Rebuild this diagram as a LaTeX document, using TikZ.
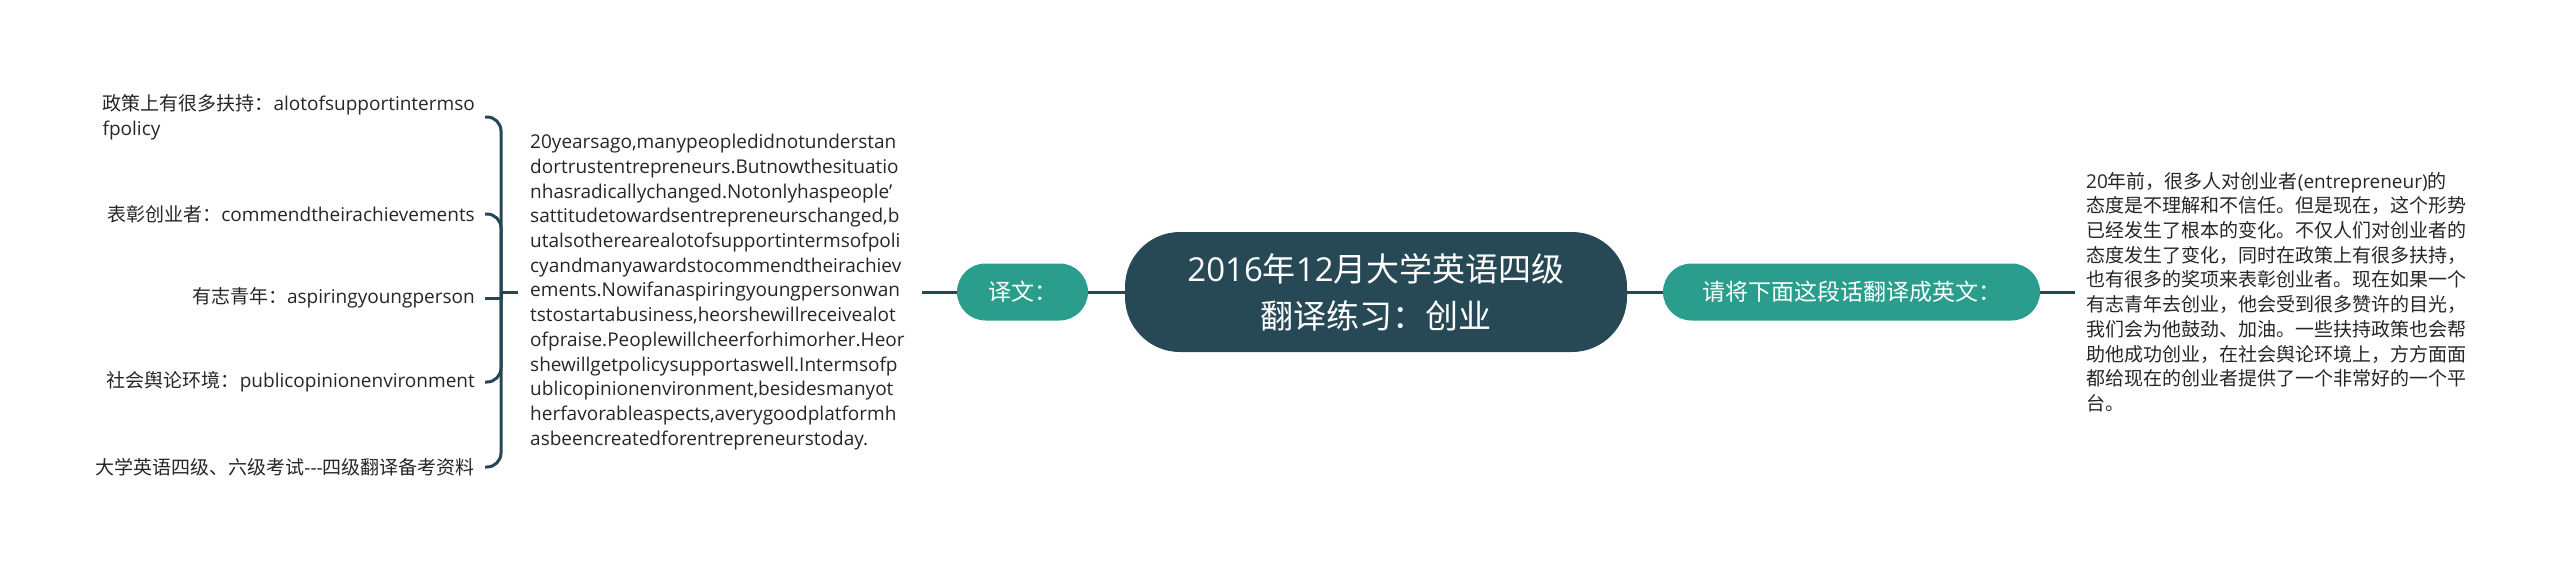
\documentclass[tikz,border=0pt]{standalone}
\usepackage{fontspec}
\setmainfont{Open Sans}
\newfontfamily\cjk{Noto Sans CJK SC}
\definecolor{rootc}{HTML}{274956}
\definecolor{tealc}{HTML}{2A9D8C}
\definecolor{linec}{HTML}{264653}
\definecolor{txtc}{HTML}{262626}
\tikzset{
 rootbox/.style={fill=rootc, rounded corners=55pt, minimum width=502pt, minimum height=120pt, inner sep=0pt, text=white, align=center, font=\fontsize{33}{47}\selectfont},
 branchbox/.style={fill=tealc, rounded corners=28.5pt, minimum height=57pt, inner sep=0pt, text=white, font=\fontsize{23}{28}\selectfont},
 leaftext/.style={text=txtc, inner xsep=10pt, inner ysep=0pt, font=\fontsize{19}{24.7}\selectfont},
 paratext/.style={text=txtc, inner xsep=12pt, inner ysep=0pt, align=left, font=\fontsize{19}{24.7}\selectfont},
 conn/.style={draw=linec, line width=3pt},
}
\begin{document}
\begin{tikzpicture}[x=1pt,y=-1pt]
\useasboundingbox (0,0) rectangle (2560,571);
% root and branches
\node[rootbox] (root) at (1376,292) {2016{\cjk 年}12{\cjk 月大学英语四级}\\{\cjk 翻译练习：创业}};
\node[branchbox, minimum width=131pt] (yiwen) at (1022.5,292) {\cjk 译文：};
\node[branchbox, minimum width=377pt] (qj) at (1851.5,292) {\cjk 请将下面这段话翻译成英文：};
% English translation
\node[paratext, text width=380pt, anchor=west] (mid) at (518,292) {20yearsago,manypeopledidnotunderstan\\
dortrustentrepreneurs.Butnowthesituatio\\
nhasradicallychanged.Notonlyhaspeople'\\
sattitudetowardsentrepreneurschanged,b\\
utalsotherearealotofsupportintermsofpoli\\
cyandmanyawardstocommendtheirachiev\\
ements.Nowifanaspiringyoungpersonwan\\
tstostartabusiness,heorshewillreceivealot\\
ofpraise.Peoplewillcheerforhimorher.Heor\\
shewillgetpolicysupportaswell.Intermsofp\\
ublicopinionenvironment,besidesmanyot\\
herfavorableaspects,averygoodplatformh\\
asbeencreatedforentrepreneurstoday.};
% Chinese original
\node[paratext, inner xsep=11pt, text width=385pt, anchor=west] (rtext) at (2075,292) {20{\cjk 年前，很多人对创业者}(entrepreneur){\cjk 的}\\
{\cjk 态度是不理解和不信任。但是现在，这个形势}\\
{\cjk 已经发生了根本的变化。不仅人们对创业者的}\\
{\cjk 态度发生了变化，同时在政策上有很多扶持，}\\
{\cjk 也有很多的奖项来表彰创业者。现在如果一个}\\
{\cjk 有志青年去创业，他会受到很多赞许的目光，}\\
{\cjk 我们会为他鼓劲、加油。一些扶持政策也会帮}\\
{\cjk 助他成功创业，在社会舆论环境上，方方面面}\\
{\cjk 都给现在的创业者提供了一个非常好的一个平}\\
{\cjk 台。}};
% leaves
\node[leaftext, align=left, anchor=east] (l1) at (485,117) {{\cjk 政策上有很多扶持：}alotofsupportintermso\\fpolicy};
\node[leaftext, anchor=east] (l2) at (485,214) {{\cjk 表彰创业者：}commendtheirachievements};
\node[leaftext, anchor=east] (l3) at (485,298) {{\cjk 有志青年：}aspiringyoungperson};
\node[leaftext, anchor=east] (l4) at (485,382) {{\cjk 社会舆论环境：}publicopinionenvironment};
\node[leaftext, anchor=east] (l5) at (485,467) {{\cjk 大学英语四级、六级考试}-{}-{}-{\cjk 四级翻译备考资料}};
% connectors
\coordinate (trunk) at (501,292);
\draw[conn] (root) -- (yiwen);
\draw[conn] (yiwen) -- (mid);
\draw[conn] (root) -- (qj);
\draw[conn] (qj) -- (rtext);
\draw[conn] (mid.west) -- (trunk);
\draw[conn, rounded corners=14pt] (trunk) |- (l1.east);
\draw[conn, rounded corners=14pt] (trunk) |- (l2.east);
\draw[conn] (trunk) |- (l3.east);
\draw[conn, rounded corners=14pt] (trunk) |- (l4.east);
\draw[conn, rounded corners=14pt] (trunk) |- (l5.east);
\end{tikzpicture}
\end{document}
